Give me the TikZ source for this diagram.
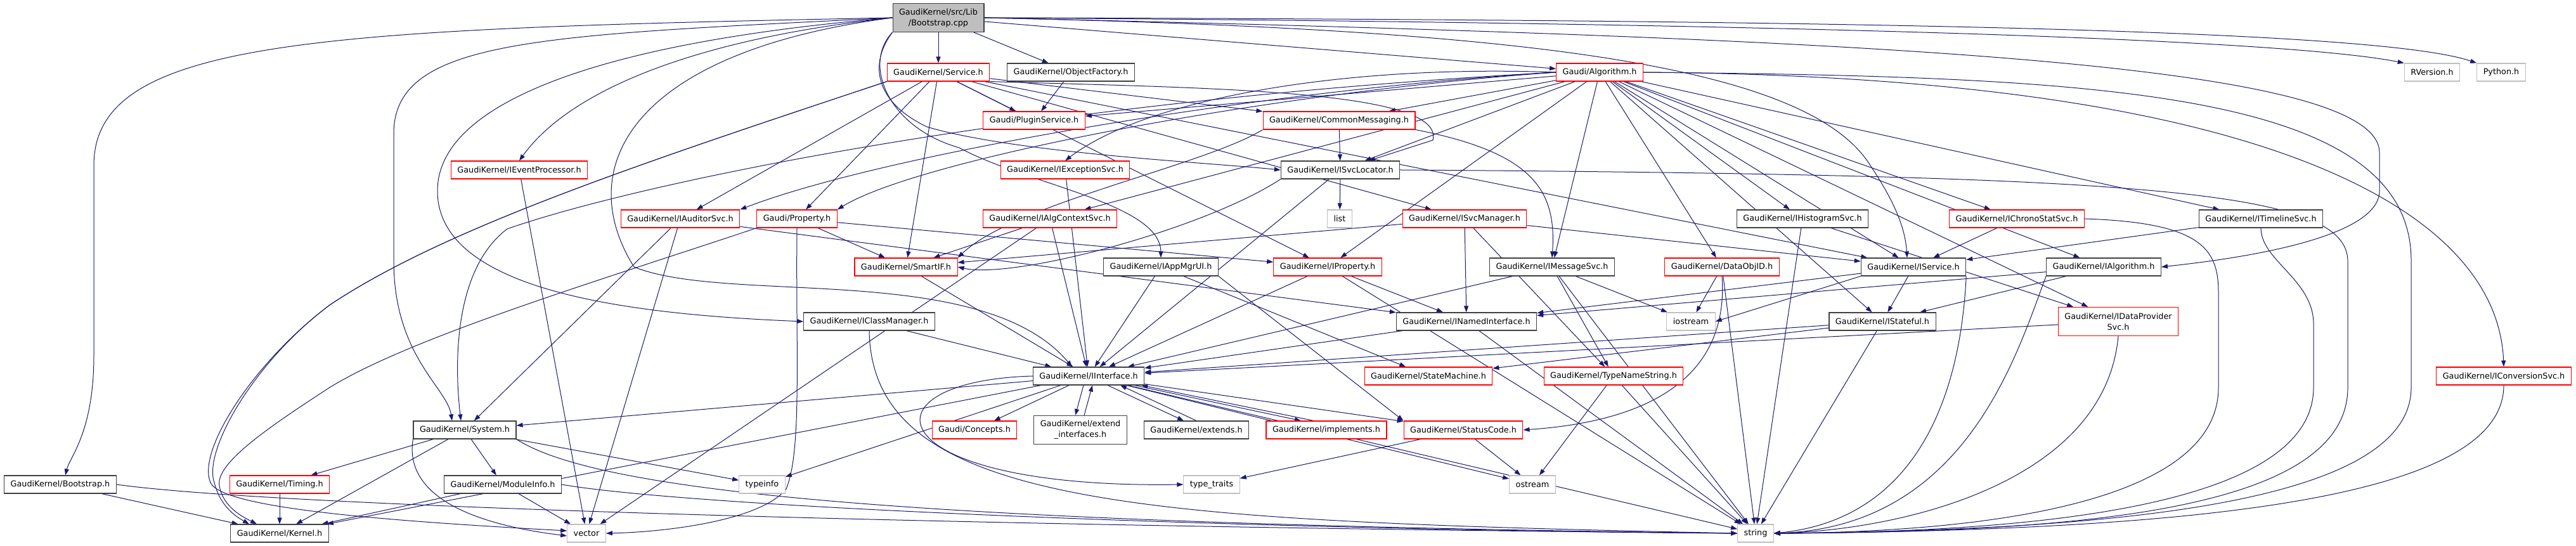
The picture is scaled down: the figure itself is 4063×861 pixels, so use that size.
\documentclass[tikz,border=0pt]{standalone}
\usepackage{fontspec}
\setmainfont{DejaVu Sans}
\usetikzlibrary{arrows.meta}
\usetikzlibrary{backgrounds}
\newcommand{\hdrfont}{\fontsize{12.8pt}{17pt}\selectfont}
\definecolor{incblue}{HTML}{191970}
\tikzset{
	hdr/.style = {rectangle, draw, fill=white, font=\hdrfont, align=center,
		inner xsep=10pt, inner ysep=0pt, minimum height=28pt, line width=1.1pt},
	hdr_b/.style = {hdr, draw=black!75},% header, all includes shown
	hdr_r/.style = {hdr, draw=red},% header, some includes hidden
	hdr_s/.style = {hdr, draw=black!25},% system header
	hdr_top/.style = {hdr, draw=black!75, fill=black!25, minimum height=45pt},% the file itself
	hdr2/.style = {minimum height=45pt},
	inc/.style = {draw=incblue, line width=1pt}
}

\begin{document}
\begin{tikzpicture}[x=1pt,y=1pt,->,>={Triangle[length=10pt,width=7pt]}]
\useasboundingbox (0,0) rectangle (4063,861);
\node[hdr_top] (root) at (1480,833) {GaudiKernel/src/Lib\\/Bootstrap.cpp};
\node[hdr_r] (service) at (1480,747) {GaudiKernel/Service.h};
\node[hdr_b] (objfact) at (1689,747) {GaudiKernel/ObjectFactory.h};
\node[hdr_r] (algorithm) at (2523,747) {Gaudi/Algorithm.h};
\node[hdr_s] (rversion) at (3836,747) {RVersion.h};
\node[hdr_s] (python) at (3945,747) {Python.h};
\node[hdr_r] (plugin) at (1631,671) {Gaudi/PluginService.h};
\node[hdr_r] (commsg) at (2112,671) {GaudiKernel/CommonMessaging.h};
\node[hdr_r] (ievtproc) at (819,593) {GaudiKernel/IEventProcessor.h};
\node[hdr_r] (iexcept) at (1680,593) {GaudiKernel/IExceptionSvc.h};
\node[hdr_b] (isvcloc) at (2114,593) {GaudiKernel/ISvcLocator.h};
\node[hdr_r] (iauditor) at (1073,516) {GaudiKernel/IAuditorSvc.h};
\node[hdr_r] (property) at (1257,516) {Gaudi/Property.h};
\node[hdr_r] (ialgctx) at (1656,516) {GaudiKernel/IAlgContextSvc.h};
\node[hdr_s] (list) at (2113,516) {list};
\node[hdr_r] (isvcmgr) at (2310,516) {GaudiKernel/ISvcManager.h};
\node[hdr_b] (ihisto) at (2843,516) {GaudiKernel/IHistogramSvc.h};
\node[hdr_r] (ichrono) at (3181,516) {GaudiKernel/IChronoStatSvc.h};
\node[hdr_b] (itimeline) at (3566,516) {GaudiKernel/ITimelineSvc.h};
\node[hdr_r] (smartif) at (1429,440) {GaudiKernel/SmartIF.h};
\node[hdr_b] (iappmgr) at (1831,440) {GaudiKernel/IAppMgrUI.h};
\node[hdr_r] (iprop) at (2094,440) {GaudiKernel/IProperty.h};
\node[hdr_b] (imsgsvc) at (2448,440) {GaudiKernel/IMessageSvc.h};
\node[hdr_r] (dataobjid) at (2716,440) {GaudiKernel/DataObjID.h};
\node[hdr_b] (iservice) at (3018,440) {GaudiKernel/IService.h};
\node[hdr_b] (ialgorithm) at (3318,440) {GaudiKernel/IAlgorithm.h};
\node[hdr_b] (iclassmgr) at (1371,354) {GaudiKernel/IClassManager.h};
\node[hdr_b] (inamed) at (2313,354) {GaudiKernel/INamedInterface.h};
\node[hdr_s] (iostream) at (2667,354) {iostream};
\node[hdr_b] (istateful) at (2969,354) {GaudiKernel/IStateful.h};
\node[hdr_r, hdr2] (idataprov) at (3341,354) {GaudiKernel/IDataProvider\\Svc.h};
\node[hdr_b] (iintf) at (1717,268) {GaudiKernel/IInterface.h};
\node[hdr_r] (statemach) at (2253,268) {GaudiKernel/StateMachine.h};
\node[hdr_r] (tnstring) at (2545,268) {GaudiKernel/TypeNameString.h};
\node[hdr_r] (iconv) at (3949,268) {GaudiKernel/IConversionSvc.h};
\node[hdr_b] (system) at (733,183) {GaudiKernel/System.h};
\node[hdr_r] (concepts) at (1537,183) {Gaudi/Concepts.h};
\node[hdr_b, hdr2] (extintf) at (1704,183) {GaudiKernel/extend\\\_interfaces.h};
\node[hdr_b] (extends) at (1887,183) {GaudiKernel/extends.h};
\node[hdr_r] (implements) at (2092,183) {GaudiKernel/implements.h};
\node[hdr_r] (statuscode) at (2308,183) {GaudiKernel/StatusCode.h};
\node[hdr_b] (booth) at (95,97) {GaudiKernel/Bootstrap.h};
\node[hdr_r] (timing) at (441,97) {GaudiKernel/Timing.h};
\node[hdr_b] (modinfo) at (793,97) {GaudiKernel/ModuleInfo.h};
\node[hdr_s] (typeinfo) at (1202,97) {typeinfo};
\node[hdr_s] (typetraits) at (1911,97) {type\_traits};
\node[hdr_s] (ostream) at (2417,97) {ostream};
\node[hdr_b] (kernel) at (441,20) {GaudiKernel/Kernel.h};
\node[hdr_s] (vector) at (925,20) {vector};
\node[hdr_s] (string) at (2769,20) {string};

\begin{pgfonlayer}{background}
\foreach \a/\b in {root/service, root/objfact, root/algorithm, objfact/plugin,
	service/plugin, service/commsg, service/smartif, service/iprop, service/iauditor,
	service/property, service/iservice, service/isvcmgr,
	algorithm/plugin, algorithm/commsg, algorithm/isvcloc, algorithm/ialgctx,
	algorithm/iprop, algorithm/imsgsvc, algorithm/dataobjid, algorithm/ihisto,
	algorithm/ichrono, algorithm/itimeline, algorithm/idataprov, algorithm/ialgorithm,
	algorithm/iservice, algorithm/istateful,
	commsg/isvcloc, isvcloc/list, isvcloc/iintf,
	iauditor/system, iauditor/vector, iauditor/inamed,
	property/iprop, property/smartif,
	ialgctx/smartif, ialgctx/iintf, ialgctx/vector, ievtproc/vector, iexcept/iintf,
	smartif/iintf, iclassmgr/iintf, iappmgr/iintf, iappmgr/statemach,
	iprop/iintf, iprop/inamed, iprop/string,
	isvcmgr/smartif, isvcmgr/iservice, isvcmgr/tnstring, isvcmgr/inamed,
	imsgsvc/iintf, imsgsvc/iostream, imsgsvc/tnstring, imsgsvc/string,
	dataobjid/iostream, dataobjid/string, ihisto/idataprov, ihisto/string,
	ichrono/iservice, itimeline/iservice, ialgorithm/inamed, ialgorithm/istateful,
	iservice/inamed, iservice/istateful, inamed/iintf, inamed/string,
	istateful/iintf, istateful/statemach, istateful/string, idataprov/iintf,
	tnstring/ostream, tnstring/string, statuscode/ostream, statuscode/typetraits,
	iintf/kernel, iintf/system, iintf/typeinfo, iintf/ostream, iintf/statuscode,
	iintf/concepts, iintf/string,
	system/timing, system/kernel, system/modinfo, system/typeinfo,
	timing/kernel, modinfo/kernel, modinfo/vector, booth/kernel}
	\draw[inc] (\a) -- (\b);
% long ways round
\draw[inc] (root.west) .. controls (500,815) and (148,800) .. (148,600) -- (148,300) .. controls (148,180) and (110,140) .. ([xshift=8pt]booth.north);
\draw[inc] (root.west) .. controls (850,805) and (621,800) .. (621,650) -- (621,450) .. controls (621,300) and (705,250) .. ([xshift=-20pt]system.north);
\draw[inc] (root.west) .. controls (950,795) and (690,700) .. (690,560) .. controls (690,400) and (1000,365) .. (iclassmgr.west);
\draw[inc] (root.west) .. controls (1100,800) and (900,720) .. (ievtproc.north);
\draw[inc] (root.west) .. controls (1000,780) and (900,600) .. (1000,440) .. controls (1150,380) and (1550,450) .. ([xshift=-26pt]iintf.north);
\draw[inc] (root.south west) .. controls (1370,760) and (1380,700) .. (1462,661) .. controls (1600,620) and (1900,605) .. (isvcloc.west);
\draw[inc] (root.south west) .. controls (1360,760) and (1400,660) .. (1513,628) .. controls (1620,570) and (1830,540) .. (iappmgr.north);
\draw[inc] (root.east) .. controls (2400,815) and (2850,760) .. (2950,600) .. controls (2990,540) and (3005,500) .. ([xshift=-10pt]iservice.north);
\draw[inc] (root.east) .. controls (3000,800) and (3753,760) .. (3753,620) -- (3753,560) .. controls (3753,480) and (3500,450) .. (ialgorithm.east);
\draw[inc] (root.east) .. controls (2800,825) and (3600,800) .. (rversion.north west);
\draw[inc] (root.east) .. controls (2900,830) and (3750,815) .. (python.north west);
\draw[inc] (service.south west) .. controls (1000,600) and (700,500) .. (520,380) .. controls (400,290) and (320,150) .. (338,100) .. controls (348,60) and (375,45) .. ([xshift=-48pt]kernel.north);
\draw[inc] (service.south west) .. controls (1000,600) and (700,500) .. (520,380) .. controls (400,290) and (310,150) .. (332,100) .. controls (350,60) and (600,40) .. ([yshift=4pt]vector.west);
\draw[inc] (property.south west) .. controls (950,420) and (650,330) .. (520,250) .. controls (420,185) and (340,130) .. (346,95) .. controls (352,60) and (385,45) .. ([xshift=-36pt]kernel.north);
\draw[inc] (property.south) .. controls (1255,300) and (1265,150) .. (1240,90) .. controls (1200,40) and (1050,22) .. (vector.east);
\draw[inc] (service.south east) .. controls (1900,722) and (2280,720) .. (2260,640) -- ([xshift=45pt]isvcloc.north);
\draw[inc] (algorithm.west) .. controls (1600,700) and (1000,570) .. (800,500) .. controls (720,440) and (715,300) .. ([xshift=-6pt]system.north);
\draw[inc] (algorithm.west) .. controls (2100,760) and (1800,700) .. (iexcept.north);
\draw[inc] (algorithm.west) .. controls (2000,720) and (1400,620) .. (iauditor.north east);
\draw[inc] (algorithm.west) .. controls (2000,715) and (1450,610) .. (property.north east);
\draw[inc] (algorithm.east) .. controls (3600,740) and (3940,520) .. (iconv.north);
\draw[inc] (algorithm.east) .. controls (3300,740) and (3803,720) .. (3803,450) -- (3803,250) .. controls (3803,60) and (3300,25) .. (string.east);
\draw[inc] (commsg.south east) .. controls (2420,620) and (2455,560) .. (imsgsvc.north);
\draw[inc] (commsg.south west) .. controls (1900,600) and (1600,540) .. (smartif.north east);
\draw[inc] (isvcloc.south west) .. controls (1900,500) and (1600,420) .. (smartif.east);
\draw[inc] (isvcloc.east) .. controls (3400,585) and (3700,560) .. (3703,450) -- (3703,250) .. controls (3703,60) and (3300,22) .. (string.east);
\draw[inc] (ichrono.east) .. controls (3470,510) and (3499,470) .. (3499,400) -- (3499,250) .. controls (3499,60) and (3100,22) .. (string.east);
\draw[inc] (itimeline.south) .. controls (3566,450) and (3649,420) .. (3649,350) -- (3649,250) .. controls (3649,60) and (3200,22) .. (string.east);
\draw[inc] (iconv.south) .. controls (3949,80) and (3500,25) .. (string.east);
\draw[inc] (iservice.south east) .. controls (3090,200) and (3000,40) .. (string.east);
\draw[inc] (ialgorithm.south west) .. controls (3180,300) and (3100,30) .. (string.east);
\draw[inc] (idataprov.south) .. controls (3320,100) and (3000,25) .. (string.east);
\draw[inc] (iservice.south west) -- (iostream.east);
\draw[inc] (iclassmgr.south) .. controls (1375,60) and (1800,40) .. (string.west);
\draw[inc] (system.south east) .. controls (950,80) and (1500,35) .. (string.west);
\draw[inc] (modinfo.east) .. controls (1100,60) and (2000,25) .. (string.west);
\draw[inc] (booth.east) .. controls (450,60) and (1600,30) .. (string.west);
\draw[inc] (system.south west) .. controls (640,100) and (700,40) .. ([yshift=-4pt]vector.west);
\draw[inc] (iintf.west) .. controls (1350,260) and (1380,90) .. (typetraits.west);
\draw[inc] (dataobjid.south) .. controls (2725,300) and (2650,200) .. (statuscode.east);
\draw[inc] (iappmgr.south east) -- (statuscode.north west);
% both ways
\draw[inc] ([xshift=-8pt]iintf.south) -- ([xshift=-8pt]extintf.north);
\draw[inc] ([xshift=6pt]extintf.north) -- ([xshift=6pt]iintf.south);
\draw[inc] ([xshift=30pt]iintf.south) -- ([xshift=-20pt]extends.north);
\draw[inc] (extends.north) -- ([xshift=50pt]iintf.south);
\draw[inc] ([xshift=-16pt]iintf.south east) -- ([xshift=-40pt]implements.north);
\draw[inc] ([xshift=-20pt]implements.north) -- ([xshift=-5pt]iintf.south east);
\end{pgfonlayer}
\end{tikzpicture}
\end{document}
